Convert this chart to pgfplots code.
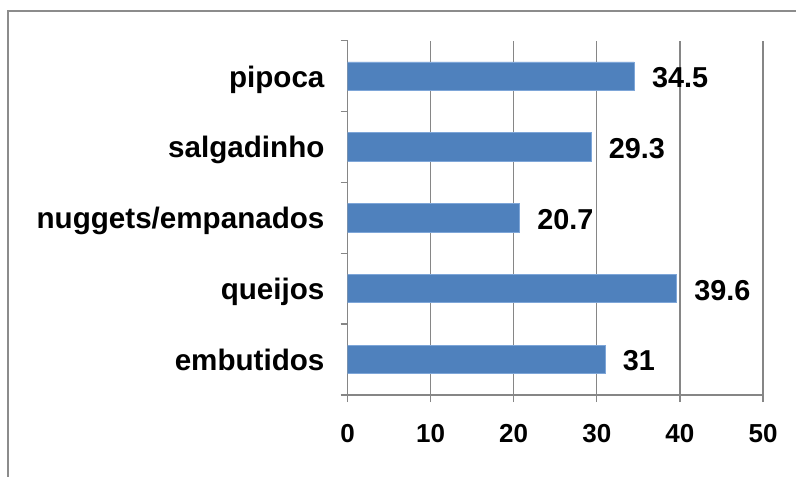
\documentclass[border=0pt]{standalone}
\usepackage{fontspec}
\setmainfont{Liberation Sans}
\usepackage{pgfplots}
\pgfplotsset{compat=1.18}
\definecolor{barblue}{HTML}{4F81BD}
\definecolor{baredge}{HTML}{7EA6D8}
\definecolor{gridgray}{HTML}{868686}
\definecolor{framegray}{HTML}{8C8C8C}

\begin{document}
\begin{tikzpicture}
\useasboundingbox (0,0) rectangle (398pt,238pt);
\clip (0,0) rectangle (398pt,238pt);
% chart frame (only its top and left edges fall inside the page)
\draw[framegray, line width=1.15pt] (3.9pt,-10pt) -- (3.9pt,232.4pt) -- (420pt,232.4pt);
\begin{axis}[
  at={(173.75pt,40.5pt)}, anchor=south west,
  scale only axis, width=207.75pt, height=177.15pt,
  xbar, bar width=0.4, bar shift=0pt,
  xmin=0, xmax=50, ymin=-0.5, ymax=4.5,
  xtick={0,10,...,50},
  ytick={-0.5,0.5,...,4.5},
  y tick label as interval,
  yticklabels={embutidos,queijos,nuggets/empanados,salgadinho,pipoca},
  axis x line*=bottom, axis y line*=left,
  axis line style={-, gridgray, line width=0.65pt},
  xmajorgrids,
  major grid style={gridgray, line width=0.65pt},
  tick align=outside, major tick length=3.5pt,
  every tick/.style={gridgray, line width=0.65pt},
  /pgf/number format/assume math mode=true,
  xticklabel style={font=\bfseries\fontsize{13}{15}\selectfont, anchor=base, yshift=-20pt},
  yticklabel style={font=\bfseries\fontsize{14.8}{17}\selectfont, anchor=base east,
    xshift=-4.5pt, yshift=-5.5pt},
  nodes near coords,
  every node near coord/.append style={font=\bfseries\fontsize{14.4}{16}\selectfont,
    anchor=base west, inner sep=0pt, xshift=8.7pt, yshift=-5.7pt, black},
]
\addplot[fill=barblue, draw=baredge, line width=0.4pt]
  coordinates {(31,0) (39.6,1) (20.7,2) (29.3,3) (34.5,4)};
\end{axis}
\end{tikzpicture}
\end{document}
